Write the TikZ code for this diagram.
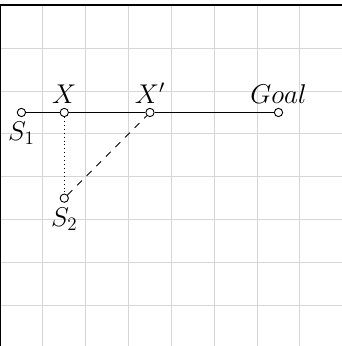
\documentclass[tikz,border=0pt]{standalone}
\usepackage{fix-cm}
\usepackage{tikz}
\usetikzlibrary{positioning}
\tikzset{
	gridline/.style={draw=black!16, line width=0.7pt},
	frameline/.style={draw=black, line width=1.2pt},
	pt/.style={circle, draw=black, fill=white, line width=0.6pt, inner sep=0pt, minimum size=5.5pt},
	lbl/.style={inner sep=3pt, font=\fontsize{18}{21}\selectfont},
	path/.style={line width=0.6pt},
}
\begin{document}
\begin{tikzpicture}[every label/.style={lbl}]
	\useasboundingbox (0,0.05) rectangle (7.96,8.125);
	\draw[gridline] (0,0) grid (8,8);
	\draw[frameline] (0,0) rectangle (8,8);
	\node[pt, label=below:$S_1$] (s1) at (0.5,5.5) {};
	\node[pt, label=above:$X$] (x) at (1.5,5.5) {};
	\node[pt, label=above:$X'$] (xp) at (3.5,5.5) {};
	\node[pt, label=above:$Goal$] (goal) at (6.5,5.5) {};
	\node[pt, label=below:$S_2$] (s2) at (1.5,3.5) {};
	\draw[path] (s1) -- (x);
	\draw[path] (x) -- (xp);
	\draw[path] (xp) -- (goal);
	\draw[path, dotted] (x) -- (s2);
	\draw[path, dash pattern=on 4.5pt off 4.5pt] (s2) -- (xp);
\end{tikzpicture}
\end{document}
